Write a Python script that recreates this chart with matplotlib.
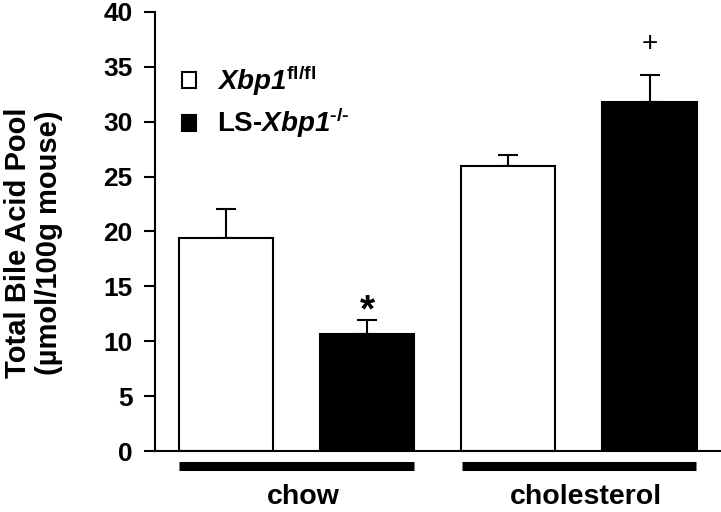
import numpy as np
import matplotlib
matplotlib.use("Agg")
import matplotlib.pyplot as plt
from matplotlib.patches import Patch

plt.rcParams['font.family'] = ['Liberation Sans', 'DejaVu Sans']
plt.rcParams['font.weight'] = 'bold'
plt.rcParams['mathtext.fontset'] = 'custom'
# digits go through the rm font in mathtext, so make it italic for "Xbp1"
plt.rcParams['mathtext.rm'] = 'Liberation Sans:italic:bold'
plt.rcParams['mathtext.it'] = 'Liberation Sans:italic:bold'
plt.rcParams['mathtext.bf'] = 'Liberation Sans:bold'

# data
diets = ["chow", "cholesterol"]
genotypes = [r"$\mathit{Xbp1}^{\mathbf{fl/fl}}$",
             "LS-$\\mathit{Xbp1}^{\\mathbf{\u2010/\u2010}}$"]
means = [[19.4, 26.0], [10.7, 31.8]]     # per genotype, per diet
errors = [[2.6, 1.0], [1.25, 2.4]]
marks = [["", ""], ["*", "+"]]
fills = ["white", "black"]

fig = plt.figure(figsize=(7.21, 5.12), dpi=100)
ax = fig.add_axes([0.215, 0.119, 0.784, 0.858])

x = np.arange(len(diets)) * 2
w = 0.667
for g in range(len(genotypes)):
    pos = x + g
    ax.bar(pos, means[g], width=w, color=fills[g], edgecolor="black",
           linewidth=1.5, label=genotypes[g], zorder=2)
    ax.errorbar(pos, means[g], yerr=[np.zeros(len(diets)), errors[g]],
                fmt="none", ecolor="black", elinewidth=1.5, capsize=7.5,
                capthick=1.5, zorder=1)
    for p, m, e, t in zip(pos, means[g], errors[g], marks[g]):
        if t == "*":
            ax.text(p, m + e - 0.9, t, ha="center", va="bottom", fontsize=28)
        elif t:
            ax.text(p, m + e + 2.9, t, ha="center", va="center", fontsize=20,
                    fontweight="normal")

# group bars and labels under the axis
trans = ax.get_xaxis_transform()
for c, name in zip(x + 0.5, diets):
    ax.plot([c - 0.83, c + 0.83], [-0.034, -0.034], color="black", lw=6.5,
            solid_capstyle="butt", transform=trans, clip_on=False)
    ax.text(c + 0.05, -0.104, name, ha="center", va="center", fontsize=20.5,
            transform=trans)

ax.set_xlim(-0.5, 3.5)
ax.set_ylim(0, 40)
ax.set_yticks(np.arange(0, 41, 5))
ax.set_xticks([])
ax.tick_params(axis="y", length=8, width=1.5, labelsize=19, pad=8)
for s in ["top", "right"]:
    ax.spines[s].set_visible(False)
for s in ["left", "bottom"]:
    ax.spines[s].set_linewidth(1.5)

ax.set_ylabel("Total Bile Acid Pool\n(µmol/100g mouse)", fontsize=21,
              fontweight="bold", linespacing=1.15)
ax.yaxis.set_label_coords(-0.163, 0.474)

handles = [Patch(facecolor=f, edgecolor="black", linewidth=1.5) for f in fills]
ax.legend(handles, genotypes, loc="upper left", bbox_to_anchor=(0.004, 0.94),
          frameon=False, fontsize=20, handlelength=0.5, handleheight=0.5,
          handletextpad=0.75, labelspacing=0.3)

fig.savefig("out.png", dpi=100)
